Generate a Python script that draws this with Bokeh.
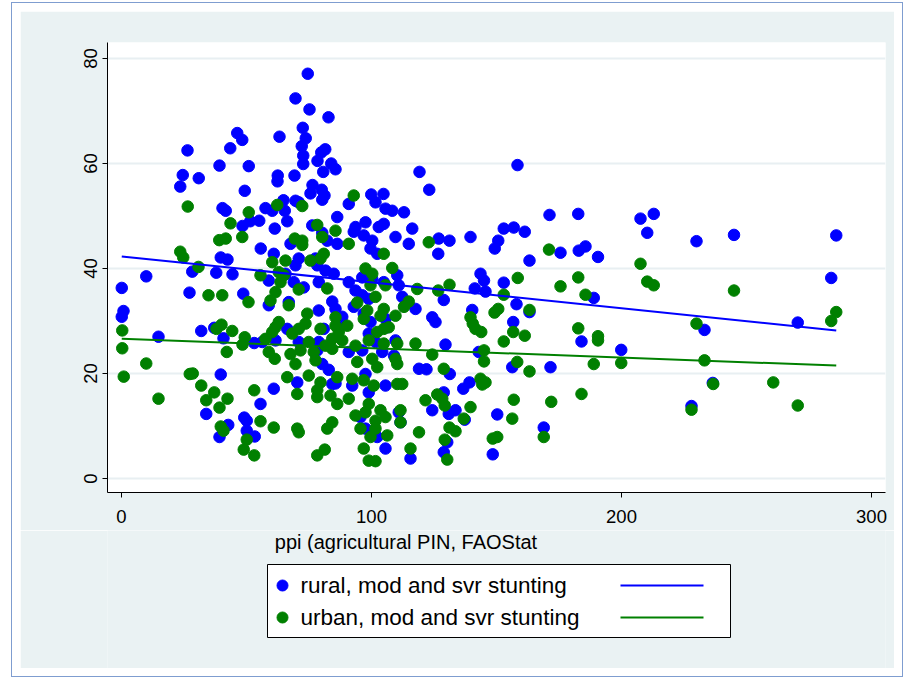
from bokeh.plotting import figure
from bokeh.models import Range1d, FixedTicker
from bokeh.layouts import column
from bokeh.embed import file_html
from bokeh.resources import INLINE
from bokeh.core.properties import value

# ---------------- data ----------------
rural_x = [
    26.4, 46.3, 48.3, 43.5, 39.2, 50.9, 24.5, 30.9, 23.5, 49.3,
    74.5, 69.6, 75.2, 82.8, 72.5, 63.2, 73.7, 72.1, 81.5, 79.9,
    72.7, 78.4, 72.7, 83.9, 85.6, 80.7, 62.5, 62.4, 69.2, 76.4,
    80.1, 75.6, 81.2, 99.9, 104.8, 119.2, 64.8, 123.1, 158.4,
    40.4, 41.7, 51.5, 48.4, 55.1, 55.7, 39.7, 42.4, 28.3, 37.9,
    44.4, 9.9, 0.1, 27.2, 48.7, 0.8, 0.1, 31.9, 37.1, 40.8,
    14.8, 53.1,
    39.7, 33.9, 49.1, 50.1, 42.7, 39.2, 50.1, 53.3, 55.6,
    57.6, 60.3, 65.3, 69.6, 70.9, 80.3, 86.3, 66.3, 61.3, 76.3,
    80.3, 82.3, 86.3, 67.6, 60.9, 70.9, 69.6, 77.6, 78.3, 81.6,
    84.9, 58.9, 68.9, 72.9, 78.9, 65.6, 84.3, 85.6, 58.9, 66.9,
    78.9, 80.9, 66.3, 61.6, 56.3, 70.9, 78.9,
    90.9, 101.6, 105.6, 108.3, 113.0, 93.6, 97.6, 102.9, 104.9, 92.9,
    96.9, 100.3, 116.3, 109.6, 114.9, 99.6, 102.3, 90.9, 96.3, 100.3,
    104.9, 110.3, 110.9, 93.6, 96.3, 98.9, 112.3, 92.9, 117.6, 96.9,
    105.6, 88.3, 99.6, 106.3, 87.6, 98.9, 101.6, 109.6,
    60.9, 70.3, 80.3, 82.9, 84.3, 78.3,
    90.9, 96.3, 104.3, 109.0, 97.6, 92.3, 98.9, 105.6, 119.0, 110.9,
    95.6, 97.6, 102.3, 111.6, 105.6, 115.6, 85.6,
    129.6, 142.9, 184.0, 199.9, 122.0, 131.3, 156.3, 171.6, 136.7, 139.2,
    128.9, 124.3, 130.9, 133.6, 137.3, 150.3, 168.9, 130.3, 128.9, 148.5,
    126.9, 131.2, 126.7, 139.6, 152.9, 156.9, 161.3, 150.7, 149.3,
    171.2, 182.7, 207.6, 212.9, 210.3, 175.6, 182.9, 185.6, 190.6, 163.2,
    143.6, 145.0, 141.3, 145.6, 152.9, 128.9, 140.3, 158.0, 163.2, 188.9,
    124.3, 125.6, 156.7,
    230.0, 245.0, 285.9, 283.9, 233.2, 270.5, 236.5, 228.0,
]
rural_y = [
    62.5, 65.8, 64.5, 62.9, 59.6, 59.5, 57.8, 57.2, 55.6, 54.8,
    77.1, 72.4, 70.3, 68.8, 66.8, 65.1, 64.8, 63.3, 62.7, 62.1,
    61.5, 60.5, 59.9, 60.0, 58.9, 58.4, 57.7, 56.6, 57.7, 55.9,
    55.0, 54.3, 53.9, 54.1, 54.2, 58.4, 53.0, 55.0, 59.7,
    51.5, 51.0, 49.0, 48.1, 49.1, 43.8, 42.1, 41.7, 39.4, 39.2,
    38.9, 38.5, 36.3, 35.4, 35.2, 31.9, 30.8, 28.1, 28.7, 26.7,
    27.0, 25.8,
    19.8, 12.3, 11.6, 11.0, 10.2, 7.9, 9.1, 8.0, 14.2,
    51.5, 51.0, 51.0, 52.9, 52.6, 53.1, 49.8, 49.0, 47.6, 48.2,
    46.8, 45.3, 44.7, 44.7, 42.8, 41.9, 40.6, 41.9, 40.6, 39.6,
    39.0, 37.7, 37.4, 36.4, 37.4, 39.0, 33.7, 32.3, 33.0, 33.6,
    32.0, 28.5, 28.5, 26.3, 26.0, 26.0, 26.0,
    52.3, 52.6, 51.4, 51.0, 50.7, 47.9, 48.8, 47.9, 48.5, 47.0,
    46.3, 45.3, 47.6, 46.0, 44.7, 43.8, 42.8, 37.4, 38.3, 38.0,
    37.4, 38.7, 36.8, 35.8, 34.9, 34.2, 34.6, 32.7, 32.3, 31.4,
    30.4, 30.8, 29.8, 28.8, 29.1, 27.6, 26.0, 26.3,
    17.1, 18.3, 21.8, 20.7, 18.0, 24.4,
    24.1, 24.4, 24.1, 23.4, 19.9, 17.7, 16.4, 17.7, 20.9, 12.6,
    11.7, 9.5, 7.9, 10.7, 5.7, 3.8, 18.1,
    25.5, 24.1, 26.1, 24.5, 20.8, 19.9, 21.2, 21.2, 17.1, 18.3,
    16.4, 13.0, 12.3, 13.0, 11.2, 12.2, 9.7, 6.9, 5.0, 4.6,
    45.7, 45.3, 42.8, 46.0, 47.6, 47.8, 47.0, 45.3, 43.8,
    50.2, 50.4, 49.5, 50.4, 46.8, 43.0, 43.4, 44.2, 42.2, 41.5,
    39.0, 37.7, 36.2, 35.6, 37.3, 34.0, 32.1, 33.2, 31.7, 34.4,
    30.7, 29.8, 29.8,
    45.2, 46.4, 46.3, 38.2, 28.3, 29.7, 18.2, 13.8,
]
urban_x = [
    26.5, 50.9, 43.6, 48.3, 39.1, 41.7, 23.5, 24.7, 30.8, 55.6,
    34.8, 40.3, 50.8, 0.3, 40.0, 38.0, 44.3, 49.3, 0.3,
    9.9, 0.9, 42.1, 48.4, 27.3, 28.5, 14.8, 31.9, 37.1, 33.9,
    42.4, 39.2, 53.1, 39.7, 40.8, 50.1, 48.9, 53.1, 55.6,
    62.3, 72.3, 78.3, 85.6, 80.3, 69.3, 72.3, 72.3, 80.9, 79.6,
    75.6, 65.6, 60.3, 62.9, 64.9, 63.6, 70.9, 82.3, 61.6, 59.6,
    66.9, 74.3, 62.9, 61.6, 79.6, 85.6, 85.6, 70.9, 73.6, 68.3,
    60.3, 57.6, 84.3, 74.9,
    92.9, 90.9, 104.9, 97.6, 108.3, 100.3, 99.6, 105.6, 118.3, 101.6,
    94.3, 114.9, 113.0, 98.3, 104.9, 103.6, 109.6, 96.9, 90.3, 86.9,
    102.3, 104.9, 106.9, 88.3, 98.9, 93.6, 104.9, 110.3, 117.6,
    58.9, 61.3, 67.6, 69.6, 71.6, 76.9, 77.6, 81.6, 84.3, 66.3,
    74.9, 79.6, 70.3, 78.3, 78.3, 83.6, 86.3, 86.3, 60.9, 70.3,
    70.9, 84.3, 82.3, 78.3, 81.3,
    94.3, 100.3, 102.3, 109.6, 110.3, 92.3, 96.9, 100.9, 110.3, 112.3,
    90.9, 98.9, 93.6, 97.6, 103.6, 105.6, 101.6, 111.6, 95.6, 99.6,
    101.6, 106.3, 111.6, 119.0, 96.9, 115.6, 98.9, 101.6,
    124.3, 145.0, 145.0, 152.9, 158.3, 163.2, 188.9, 199.9, 190.6, 128.9,
    143.6, 145.6, 144.3, 121.6, 126.3, 128.3, 129.3, 139.6, 136.9, 156.9,
    156.3, 171.9, 184.0, 131.2, 133.6, 129.3, 130.3, 148.5, 150.3, 168.9,
    122.9, 171.0, 207.6, 126.7, 131.2, 158.5, 152.9, 175.6, 182.7, 185.6,
    210.3, 212.9, 139.6, 140.5, 141.6, 143.9, 149.2, 150.7, 163.2, 156.7,
    161.3, 182.7, 190.6,
    245.0, 285.9, 283.9, 230.0, 233.2, 236.7, 260.7, 228.0, 270.5,
]
urban_y = [
    51.8, 50.7, 48.6, 46.0, 45.4, 45.7, 43.2, 42.1, 40.3, 38.7,
    34.9, 34.9, 33.6, 28.2, 29.3, 28.5, 28.1, 26.9, 24.8,
    21.9, 19.4, 24.1, 25.5, 19.9, 20.0, 15.2, 17.7, 16.4, 14.9,
    15.2, 13.5, 16.8, 9.9, 9.1, 7.4, 5.5, 4.4, 10.9,
    52.1, 51.9, 48.3, 47.2, 46.0, 45.7, 45.3, 44.5, 42.8, 41.9,
    41.5, 41.5, 41.2, 39.3, 38.7, 37.4, 36.0, 36.2, 35.5, 33.9,
    33.0, 31.4, 29.8, 28.8, 28.5, 30.7, 29.1, 28.5, 29.5, 27.6,
    27.9, 26.6, 26.6, 26.0,
    53.9, 44.7, 42.8, 40.0, 40.1, 39.0, 36.8, 36.8, 36.1, 34.6,
    33.5, 33.7, 32.7, 32.0, 32.3, 31.0, 31.0, 30.4, 29.1, 27.9,
    27.9, 28.5, 28.8, 26.3, 26.3, 25.3, 25.7, 25.7, 25.7,
    24.1, 22.8, 23.7, 21.8, 24.4, 24.1, 22.5, 25.3, 24.7, 19.3,
    19.6, 18.3, 16.1, 16.8, 15.5, 15.8, 19.3, 14.2, 9.7, 9.5,
    8.8, 10.7, 9.5, 4.4, 5.5,
    22.2, 22.8, 21.2, 22.8, 21.8, 19.0, 18.7, 17.7, 18.0, 18.0,
    15.2, 14.2, 12.0, 12.6, 13.0, 11.7, 11.0, 13.0, 9.5, 7.9,
    9.5, 8.2, 10.7, 8.8, 5.7, 5.7, 3.4, 3.3,
    23.6, 24.4, 22.3, 26.1, 22.2, 20.4, 21.8, 22.0, 26.3, 20.9,
    19.0, 18.3, 17.9, 14.9, 16.0, 15.2, 13.9, 13.6, 11.4, 15.0,
    11.4, 14.6, 16.1, 9.7, 9.0, 7.4, 3.6, 7.6, 7.9, 7.9,
    45.0, 43.6, 40.9, 35.8, 36.9, 38.2, 35.0, 36.6, 38.3, 35.0,
    37.5, 36.8, 30.7, 29.5, 28.5, 27.9, 31.6, 32.3, 32.1, 27.9,
    27.2, 28.6, 27.1,
    35.8, 31.7, 30.0, 29.5, 22.5, 18.0, 18.3, 13.1, 13.9,
]
# linear fit lines (end points)
fit_x = [0.1, 285.9]
rural_fit = [42.3, 28.2]
urban_fit = [26.6, 21.5]

x_ticks = [0, 100, 200, 300]
y_ticks = [0, 20, 40, 60, 80]
x_title = "ppi (agricultural PIN, FAOStat"
legend_labels = ["rural, mod and svr stunting", "urban, mod and svr stunting"]

# ---------------- style ----------------
FONT = "Liberation Sans"
BLUE = "#0000FF"
GREEN = "#008000"
REGION = "#EAF2F3"
GRID = "#E8EFF2"

W = 874          # light graph region width
H_MAIN = 519
H_LEG = 138
BL, BR = 87, 9   # left / right borders of the plot frame

p = figure(width=W, height=H_MAIN, output_backend="svg", toolbar_location=None,
           x_range=Range1d(-5.6, 305.6), y_range=Range1d(-2.67, 83.05),
           min_border_left=BL, min_border_right=BR, min_border_top=31,
           min_border_bottom=38)
p.background_fill_color = "white"
p.border_fill_color = REGION
p.outline_line_color = None

p.xgrid.visible = False
p.ygrid.grid_line_color = GRID
p.ygrid.grid_line_width = 2
p.ygrid.ticker = FixedTicker(ticks=y_ticks)

for ax in (p.xaxis[0], p.yaxis[0]):
    ax.axis_line_color = "#000000"
    ax.axis_line_width = 1
    ax.major_tick_line_color = "#000000"
    ax.major_tick_out = 5
    ax.major_tick_in = 0
    ax.minor_tick_line_color = None
    ax.major_label_text_font = FONT
    ax.major_label_text_font_size = "18.5px"
    ax.major_label_text_color = "#000000"

p.xaxis[0].ticker = FixedTicker(ticks=x_ticks)
p.yaxis[0].ticker = FixedTicker(ticks=y_ticks)
p.yaxis[0].major_label_orientation = "vertical"
p.yaxis[0].major_label_standoff = 5
p.xaxis[0].major_label_standoff = 12

p.scatter(rural_x, rural_y, size=11.5, color=BLUE, line_color=BLUE)
p.scatter(urban_x, urban_y, size=11.5, color=GREEN, line_color=GREEN)
p.line(fit_x, rural_fit, line_color=BLUE, line_width=2)
p.line(fit_x, urban_fit, line_color=GREEN, line_width=2)

# ---------------- axis title + legend panel (page-pixel coordinates) ----------------
lg = figure(width=W, height=H_LEG, output_backend="svg", toolbar_location=None,
            x_range=Range1d(107, 885), y_range=Range1d(668, 530),
            min_border_left=BL, min_border_right=BR,
            min_border_top=0, min_border_bottom=0)
lg.axis.visible = False
lg.grid.visible = False
lg.background_fill_color = REGION
lg.border_fill_color = REGION
lg.outline_line_color = None

lg.text([405.5], [541], text=[x_title], text_font=value(FONT), text_font_size="20px",
        text_baseline="middle", text_align="center", text_color="#000000")

lg.quad(left=[267], right=[730], top=[564], bottom=[637], fill_color="white",
        line_color="#000000", line_width=1)
colors = [BLUE, GREEN]
rows = [585, 617]
for lab, col, ry in zip(legend_labels, colors, rows):
    lg.scatter([282], [ry], size=11, color=col, line_color=col)
    lg.text([300], [ry], text=[lab], text_font=value(FONT), text_font_size="22.5px",
            text_baseline="middle", text_align="left", text_color="#000000")
    lg.line([620, 703], [ry, ry], line_color=col, line_width=2)

layout = column(p, lg, spacing=0,
                styles={"margin": "2px 0px 0px 11px", "padding": "8px",
                        "border": "1px solid #7F9DD0",
                        "background-color": "white"})
open("out.html", "w").write(file_html(layout, INLINE))
